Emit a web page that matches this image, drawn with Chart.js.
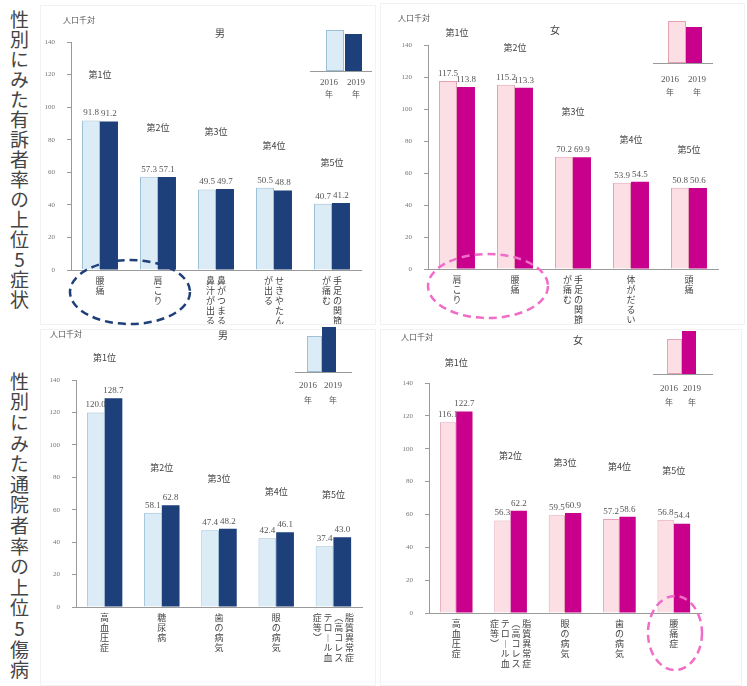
<!DOCTYPE html>
<html><head><meta charset="utf-8">
<script src="https://cdn.jsdelivr.net/npm/chart.js@4/dist/chart.umd.min.js"></script>
<style>
html,body{margin:0;padding:0;background:#fff;}
#wrap{position:relative;width:747px;height:686px;overflow:hidden;font-family:'Noto Sans CJK JP',sans-serif;color:#555;}
canvas{position:absolute;left:0;top:0;}
.t{position:absolute;white-space:nowrap;transform:translate(-50%,-50%);line-height:1;}
.num{font-family:'Liberation Serif',serif;font-size:9px;color:#555;}
.jp{font-size:8px;color:#555;}
.ttl{font-size:10px;color:#444;}
.vt{position:absolute;writing-mode:vertical-rl;text-orientation:upright;font-size:19px;color:#444;line-height:1;white-space:nowrap;height:330px;}
.box{position:absolute;box-sizing:border-box;}
</style></head>
<body><div id="wrap">
<div class="vt" style="left:10px;top:10px;letter-spacing:1px;">性別にみた有訴者率の上位5症状</div>
<div class="vt" style="left:10px;top:372px;letter-spacing:1.6px;">性別にみた通院者率の上位5傷病</div>
<canvas id="c1" width="747" height="686"></canvas>
<canvas id="c2" width="747" height="686"></canvas>
<canvas id="c3" width="747" height="686"></canvas>
<canvas id="c4" width="747" height="686"></canvas>
<div id="ov"></div>
</div>
<script>
// ---------- data ----------
const years = ["2016年", "2019年"];
const rankLabels = ["第1位", "第2位", "第3位", "第4位", "第5位"];
const yTicks = [0, 20, 40, 60, 80, 100, 120, 140];

const symptomMaleCats = ["腰痛", "肩こり", "鼻がつまる・鼻汁が出る", "せきやたんが出る", "手足の関節が痛む"];
const symptomMale2016 = [91.8, 57.3, 49.5, 50.5, 40.7];
const symptomMale2019 = [91.2, 57.1, 49.7, 48.8, 41.2];

const symptomFemaleCats = ["肩こり", "腰痛", "手足の関節が痛む", "体がだるい", "頭痛"];
const symptomFemale2016 = [117.5, 115.2, 70.2, 53.9, 50.8];
const symptomFemale2019 = [113.8, 113.3, 69.9, 54.5, 50.6];

const visitMaleCats = ["高血圧症", "糖尿病", "歯の病気", "眼の病気", "脂質異常症（高コレステロール血症等）"];
const visitMale2016 = [120.0, 58.1, 47.4, 42.4, 37.4];
const visitMale2019 = [128.7, 62.8, 48.2, 46.1, 43.0];

const visitFemaleCats = ["高血圧症", "脂質異常症（高コレステロール血症等）", "眼の病気", "歯の病気", "腰痛症"];
const visitFemale2016 = [116.1, 56.3, 59.5, 57.2, 56.8];
const visitFemale2019 = [122.7, 62.2, 60.9, 58.6, 54.4];

// vertical label columns (right to left)
const symptomMaleCols = [["腰痛"], ["肩こり"], ["鼻がつまる", "鼻汁が出る"], ["せきやたん", "が出る"], ["手足の関節", "が痛む"]];
const symptomFemaleCols = [["肩こり"], ["腰痛"], ["手足の関節", "が痛む"], ["体がだるい"], ["頭痛"]];
const lipidCols = ["脂質異常症", "︵高コレス", "テロ︱ル血", "症等︶"];
const visitMaleCols = [["高血圧症"], ["糖尿病"], ["歯の病気"], ["眼の病気"], lipidCols];
const visitFemaleCols = [["高血圧症"], lipidCols, ["眼の病気"], ["歯の病気"], ["腰痛症"]];

// ---------- helpers ----------
function rows(cols) {
  const n = Math.max(...cols.map(c => [...c].length));
  const out = [];
  for (let r = 0; r < n; r++) {
    out.push(cols.slice().reverse().map(c => [...c][r] || '　').join('\u2009'));
  }
  return out;
}

const labelPlugin = {
  id: 'lbl',
  afterDatasetsDraw(chart, args, opts) {
    const ctx = chart.ctx;
    ctx.save();
    ctx.font = "9px 'Liberation Serif'";
    ctx.fillStyle = '#555';
    ctx.textAlign = 'center';
    ctx.textBaseline = 'bottom';
    chart.data.datasets.forEach((ds, di) => {
      chart.getDatasetMeta(di).data.forEach((bar, i) => {
        ctx.fillText(ds.data[i].toFixed(1), bar.x, bar.y - 3);
      });
    });
    const xs = chart.scales.x;
    ctx.font = "9px 'Noto Sans CJK JP'";
    ctx.fillStyle = '#444';
    ctx.textBaseline = 'middle';
    opts.rankY.forEach((y, i) => ctx.fillText(rankLabels[i], xs.getPixelForValue(i), y));
    ctx.restore();
  }
};

const YW = 40;
function makeChart(id, cfg) {
  const a = cfg.area;
  const XH = 686 - a.bottom;
  return new Chart(document.getElementById(id), {
    type: 'bar',
    data: {
      labels: cfg.cats,
      datasets: [
        { label: years[0], data: cfg.v1, backgroundColor: cfg.c1, borderColor: cfg.c1b, borderWidth: 1,
          categoryPercentage: cfg.catPct, barPercentage: 1 },
        { label: years[1], data: cfg.v2, backgroundColor: cfg.c2, borderColor: cfg.c2, borderWidth: 0,
          categoryPercentage: cfg.catPct, barPercentage: 1 }
      ]
    },
    options: {
      responsive: false, animation: false, devicePixelRatio: 1,
      layout: { padding: { left: a.left - YW, right: 747 - a.right, top: a.top, bottom: 0 } },
      plugins: { legend: { display: false }, tooltip: { enabled: false }, lbl: { rankY: cfg.rankY } },
      scales: {
        x: {
          grid: { display: false, drawTicks: false },
          border: { color: '#9a9a9a', width: 1 },
          ticks: {
            autoSkip: false, maxRotation: 0, minRotation: 0, padding: 6,
            font: { family: "'Noto Sans CJK JP'", size: 9, lineHeight: 1.1 }, color: '#444',
            callback: (v, i) => rows(cfg.cols[i])
          },
          afterFit: s => { s.height = XH; }
        },
        y: {
          min: 0, max: 140,
          afterBuildTicks: s => { s.ticks = yTicks.map(v => ({ value: v })); },
          ticks: { padding: 12, font: { family: "'Liberation Serif'", size: 7 }, color: '#777' },
          grid: { drawOnChartArea: false, drawTicks: true, tickLength: 4, color: '#9a9a9a' },
          border: { color: '#9a9a9a', width: 1 },
          afterFit: s => { s.width = YW; }
        }
      }
    },
    plugins: [labelPlugin]
  });
}

const mLight = '#dcecf6', mLightB = '#9cc0d6', mDark = '#1d3f7a';
const fLight = '#fbdfe5', fLightB = '#e3a3b4', fDark = '#c8008c';

makeChart('c1', { cats: symptomMaleCats, v1: symptomMale2016, v2: symptomMale2019, cols: symptomMaleCols,
  c1: mLight, c1b: mLightB, c2: mDark, catPct: 0.62,
  area: { left: 71, right: 361, top: 42, bottom: 270 }, rankY: [75, 128, 132, 146, 163] });
makeChart('c2', { cats: symptomFemaleCats, v1: symptomFemale2016, v2: symptomFemale2019, cols: symptomFemaleCols,
  c1: fLight, c1b: fLightB, c2: fDark, catPct: 0.62,
  area: { left: 428, right: 718, top: 45, bottom: 269 }, rankY: [33, 48, 112, 140, 150] });
makeChart('c3', { cats: visitMaleCats, v1: visitMale2016, v2: visitMale2019, cols: visitMaleCols,
  c1: mLight, c1b: mLightB, c2: mDark, catPct: 0.62,
  area: { left: 76, right: 362, top: 380, bottom: 607 }, rankY: [358, 468, 479, 492, 495] });
makeChart('c4', { cats: visitFemaleCats, v1: visitFemale2016, v2: visitFemale2019, cols: visitFemaleCols,
  c1: fLight, c1b: fLightB, c2: fDark, catPct: 0.6,
  area: { left: 429, right: 701, top: 383, bottom: 613 }, rankY: [363, 456, 463, 467, 471] });

// ---------- overlay texts, legend insets, annotations ----------
const ov = document.getElementById('ov');
function txt(x, y, s, cls) { const d = document.createElement('div'); d.className = 't ' + cls; d.style.left = x + 'px'; d.style.top = y + 'px'; d.textContent = s; ov.appendChild(d); }
function box(l, t, w, h, bg, bd) { const d = document.createElement('div'); d.className = 'box'; Object.assign(d.style, { left: l + 'px', top: t + 'px', width: w + 'px', height: h + 'px', background: bg, border: bd || 'none' }); ov.appendChild(d); }

// faint panel frames
box(40, 5, 336, 320, 'transparent', '1px solid #f2f2f2');
box(380, 3, 365, 322, 'transparent', '1px solid #f2f2f2');
box(40, 329, 336, 357, 'transparent', '1px solid #f2f2f2');
box(380, 329, 362, 357, 'transparent', '1px solid #f2f2f2');

txt(79, 20, '人口千対', 'jp'); txt(220, 33, '男', 'ttl');
txt(414, 18, '人口千対', 'jp'); txt(555, 30, '女', 'ttl');
txt(66, 334, '人口千対', 'jp'); txt(223, 335, '男', 'ttl');
txt(417, 337, '人口千対', 'jp'); txt(578, 340, '女', 'ttl');

function inset(base, x0, x1, lb, db, lab, yr, c1, c1b, c2) {
  box(x0, base, x1 - x0, 1, '#9a9a9a');
  box(lb[0], lb[1], lb[2], base - lb[1], c1, '1px solid ' + c1b);
  box(db[0], db[1], db[2], base - db[1], c2);
  txt(lab[0], yr[0], '2016', 'num'); txt(lab[1], yr[0], '2019', 'num');
  txt(lab[0], yr[1], '年', 'jp'); txt(lab[1], yr[1], '年', 'jp');
}
inset(71, 310, 372, [326, 30, 18], [345, 34, 17], [329, 356], [82, 94], mLight, mLightB, mDark);
inset(63, 653, 713, [668, 21, 18], [686, 27, 16], [670, 697], [79, 92], fLight, fLightB, fDark);
inset(372, 295, 352, [307, 336, 15], [322, 327, 14], [308, 333], [385, 400], mLight, mLightB, mDark);
inset(374, 653, 713, [667, 339, 15], [682, 331, 14], [669, 692], [388, 402], fLight, fLightB, fDark);

const svgNS = 'http://www.w3.org/2000/svg';
const svg = document.createElementNS(svgNS, 'svg');
svg.setAttribute('width', 747); svg.setAttribute('height', 686);
svg.style.position = 'absolute'; svg.style.left = '0'; svg.style.top = '0';
[[130, 292, 60, 32, '#1f3f7a'], [488, 286, 60, 32, '#f06cc8'], [675, 633, 27, 37, '#f06cc8']].forEach(e => {
  const el = document.createElementNS(svgNS, 'ellipse');
  el.setAttribute('cx', e[0]); el.setAttribute('cy', e[1]); el.setAttribute('rx', e[2]); el.setAttribute('ry', e[3]);
  el.setAttribute('fill', 'none'); el.setAttribute('stroke', e[4]); el.setAttribute('stroke-width', '2.5');
  el.setAttribute('stroke-dasharray', '8 5');
  svg.appendChild(el);
});
ov.appendChild(svg);
</script>
</body></html>
